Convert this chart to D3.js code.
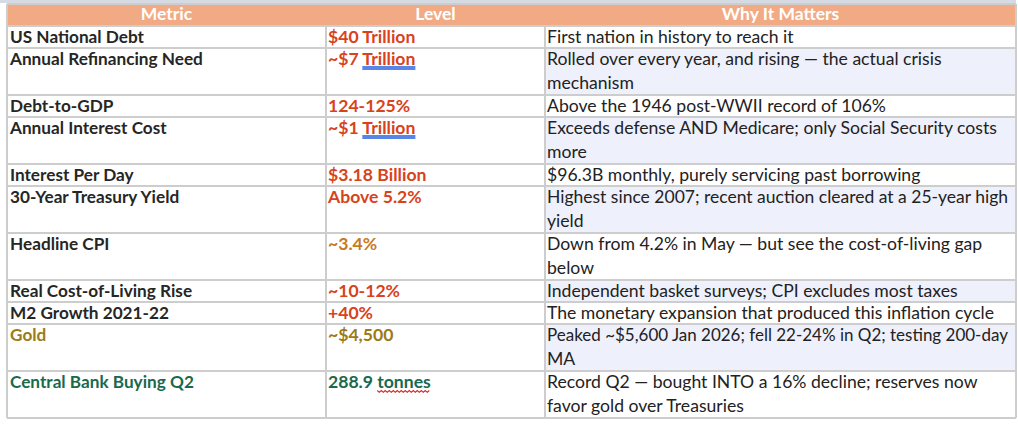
<!DOCTYPE html>
<html>
<head>
<meta charset="utf-8">
<script src="https://cdn.jsdelivr.net/npm/d3@7"></script>
<style>
  html, body { margin: 0; padding: 0; background: #fff; }
  svg { display: block; }
</style>
</head>
<body>
<div id="table"></div>
<script>
// table content
const columns = ['Metric', 'Level', 'Why It Matters'];
const metrics = [
  'US National Debt', 'Annual Refinancing Need', 'Debt-to-GDP', 'Annual Interest Cost',
  'Interest Per Day', '30-Year Treasury Yield', 'Headline CPI', 'Real Cost-of-Living Rise',
  'M2 Growth 2021-22', 'Gold', 'Central Bank Buying Q2'
];
const levels = [
  '$40 Trillion', '~$7 Trillion', '124-125%', '~$1 Trillion', '$3.18 Billion', 'Above 5.2%',
  '~3.4%', '~10-12%', '+40%', '~$4,500', '288.9 tonnes'
];
const notes = [
  ['First nation in history to reach it'],
  ['Rolled over every year, and rising \u2014 the actual crisis', 'mechanism'],
  ['Above the 1946 post-WWII record of 106%'],
  ['Exceeds defense AND Medicare; only Social Security costs', 'more'],
  ['$96.3B monthly, purely servicing past borrowing'],
  ['Highest since 2007; recent auction cleared at a 25-year high', 'yield'],
  ['Down from 4.2% in May \u2014 but see the cost-of-living gap', 'below'],
  ['Independent basket surveys; CPI excludes most taxes'],
  ['The monetary expansion that produced this inflation cycle'],
  ['Peaked ~$5,600 Jan 2026; fell 22-24% in Q2; testing 200-day', 'MA'],
  ['Record Q2 \u2014 bought INTO a 16% decline; reserves now', 'favor gold over Treasuries']
];
const levelTone = ['alarm', 'alarm', 'alarm', 'alarm', 'alarm', 'alarm', 'caution', 'alarm', 'alarm', 'gold', 'green'];
const metricTone = ['plain', 'plain', 'plain', 'plain', 'plain', 'plain', 'plain', 'plain', 'plain', 'gold', 'green'];
// words Word flagged in the Level column
const proofMarks = [
  { row: 1, word: 'Trillion', kind: 'grammar' },
  { row: 3, word: 'Trillion', kind: 'grammar' },
  { row: 10, word: 'tonnes', kind: 'spelling' }
];

const width = 1018, height = 424;
const FONT = 'Lato, "Open Sans", sans-serif';
const toneColor = {
  plain: '#262626', alarm: '#d8421c', caution: '#c87a1e', gold: '#9c7a16', green: '#19694c'
};

const svg = d3.select('#table').append('svg')
  .attr('width', width).attr('height', height);

// column edges
const colX = d3.scaleOrdinal().domain(columns).range([7, 326, 545]);
const colRight = 1016;
const colW = c => (columns.indexOf(c) < 2 ? colX(columns[columns.indexOf(c) + 1]) : colRight) - colX(c);

// row heights from the number of text lines
const headerTop = 4, headerBottom = 26;
const rowH = notes.map(n => 22 + 25 * (n.length - 1));
const rowTop = rowH.map((h, i) => headerBottom + d3.sum(rowH.slice(0, i)));
const tableBottom = headerBottom + d3.sum(rowH);
const base = 16.5;
const noteSize = 17.6;

// faint strip above the table
svg.append('rect').attr('x', 0).attr('y', 0).attr('width', colRight).attr('height', 3)
  .attr('fill', '#d6dae3');

// header
svg.append('rect')
  .attr('x', colX(columns[0])).attr('y', headerTop)
  .attr('width', colRight - colX(columns[0])).attr('height', headerBottom - headerTop)
  .attr('fill', '#f2aa84');
svg.selectAll('text.head').data(columns).enter().append('text')
  .attr('class', 'head')
  .attr('x', d => colX(d) + colW(d) / 2)
  .attr('y', headerTop + 16)
  .attr('text-anchor', 'middle')
  .attr('font-family', FONT).attr('font-weight', 700).attr('font-size', 17.5)
  .attr('fill', '#fff')
  .text(d => d);

const rows = svg.selectAll('g.row').data(metrics).enter().append('g')
  .attr('class', 'row')
  .attr('transform', (d, i) => `translate(0,${rowTop[i]})`);

// banded third column
rows.filter((d, i) => i % 2 === 1).append('rect')
  .attr('x', colX(columns[2])).attr('y', 0)
  .attr('width', colW(columns[2])).attr('height', d => rowH[metrics.indexOf(d)])
  .attr('fill', '#eef0fc');

rows.append('text')
  .attr('x', colX(columns[0]) + 3).attr('y', base)
  .attr('font-family', FONT).attr('font-weight', 700).attr('font-size', 17.2)
  .attr('fill', (d, i) => toneColor[metricTone[i]])
  .text(d => d);

rows.append('text')
  .attr('class', 'level')
  .attr('x', colX(columns[1]) + 2).attr('y', base)
  .attr('font-family', FONT).attr('font-weight', 700).attr('font-size', 17.6)
  .attr('fill', (d, i) => toneColor[levelTone[i]])
  .text((d, i) => levels[i]);

const noteLines = rows.append('text')
  .attr('x', colX(columns[2]) + 2).attr('y', base)
  .attr('font-family', FONT).attr('font-size', noteSize)
  .attr('fill', '#222')
  .selectAll('tspan').data((d, i) => notes[i]).enter().append('tspan')
  .attr('x', colX(columns[2]) + 2)
  .attr('dy', (d, j) => j === 0 ? 0 : 24.5)
  .text(d => d);

// shrink any line that would run past the right border
const maxNote = colW(columns[2]) - 10;
noteLines.each(function () {
  const len = this.getComputedTextLength();
  if (len > maxNote) {
    d3.select(this).attr('font-size', noteSize * maxNote / len);
  }
});

// proofing underlines
const levelNodes = rows.selectAll('text.level').nodes();
proofMarks.forEach(m => {
  const node = levelNodes[m.row];
  const start = levels[m.row].indexOf(m.word);
  const x0 = node.getStartPositionOfChar(start).x;
  const w = node.getSubStringLength(start, m.word.length);
  const y0 = rowTop[m.row] + base;
  if (m.kind === 'grammar') {
    [2.5, 4.5].forEach(off => svg.append('line')
      .attr('x1', x0).attr('x2', x0 + w)
      .attr('y1', y0 + off).attr('y2', y0 + off)
      .attr('stroke', '#1f5ee0').attr('stroke-width', 1.3));
  } else {
    const pts = d3.range(0, Math.floor(w / 2) + 1).map(k => [x0 + k * 2, y0 + 3 + (k % 2 ? 1.8 : 0)]);
    svg.append('path').attr('d', d3.line()(pts))
      .attr('fill', 'none').attr('stroke', '#e0201e').attr('stroke-width', 1.1);
  }
});

// grid lines
const grid = svg.append('g').attr('stroke', '#cdcdcd').attr('stroke-width', 2);
[headerBottom, ...rowTop.slice(1), tableBottom].forEach(y => grid.append('line')
  .attr('x1', colX(columns[0])).attr('x2', colRight).attr('y1', y).attr('y2', y));
[...columns.map(c => colX(c)), colRight].forEach((x, i) => grid.append('line')
  .attr('x1', x).attr('x2', x)
  .attr('y1', i === 0 || i === 3 ? headerTop : headerBottom).attr('y2', tableBottom));
grid.append('line').attr('x1', colX(columns[0])).attr('x2', colRight)
  .attr('y1', headerTop).attr('y2', headerTop);
</script>
</body>
</html>
